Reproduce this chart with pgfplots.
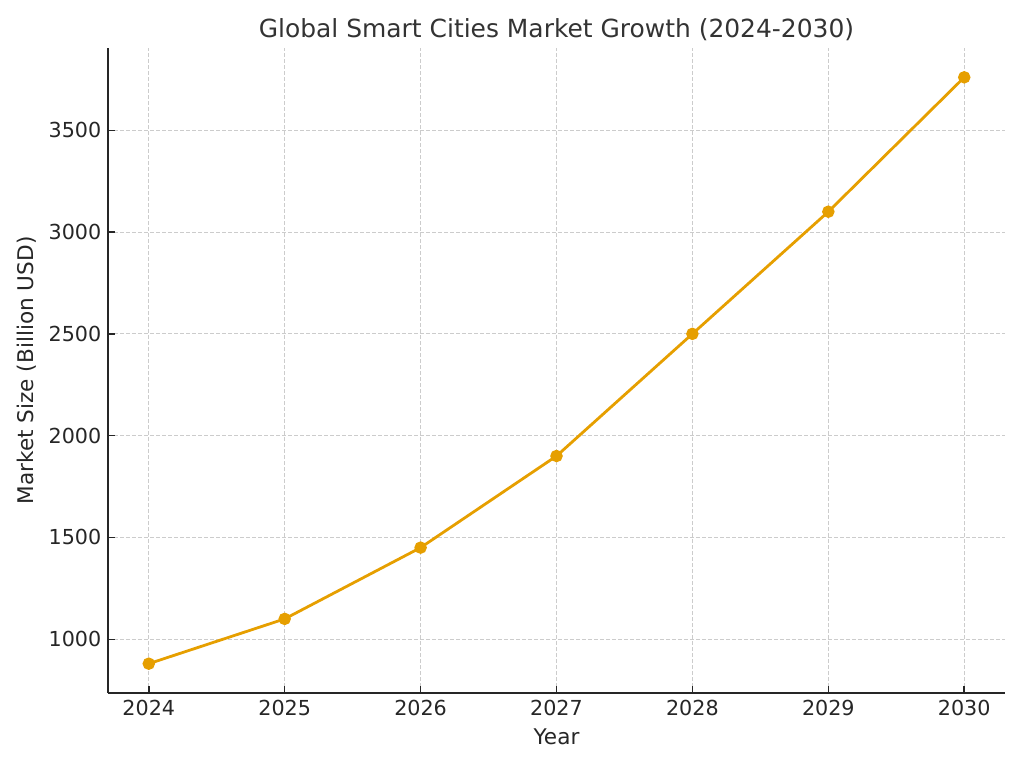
\documentclass[border=0pt]{standalone}
\usepackage{fontspec}
\setmainfont{DejaVu Sans}
\usepackage{pgfplots}
\pgfplotsset{compat=1.18}
\definecolor{lineorange}{HTML}{E69F00}
\definecolor{txt}{HTML}{262626}
\definecolor{gridgray}{HTML}{CCCCCC}

\begin{document}
\begin{tikzpicture}
\begin{axis}[
    scale only axis,
    width=672.75pt, height=483.75pt,
    xmin=2023.7, xmax=2030.3,
    ymin=736, ymax=3904,
    xtick={2024,2025,...,2030},
    ytick={1000,1500,...,3500},
    axis x line*=bottom,
    axis y line*=left,
    axis line style={line width=1.2pt, color=txt},
    tick align=inside,
    major tick length=5.5pt,
    tick style={line width=1.1pt, color=txt},
    /pgf/number format/1000 sep={},
    /pgf/number format/assume math mode=true,
    ticklabel style={font=\fontsize{15.5}{18}\selectfont, text=txt},
    xticklabel style={yshift=-2pt},
    yticklabel style={xshift=-1.5pt},
    grid=major,
    major grid style={line width=0.7pt, color=gridgray, dash pattern=on 3.1pt off 1.4pt},
    title={Global Smart Cities Market Growth (2024-2030)},
    title style={at={(axis description cs:0.5,1)}, anchor=base, yshift=1.5pt,
        font=\fontsize{18.7}{22}\selectfont, text=black!80},
    xlabel={Year},
    xlabel style={at={(axis description cs:0.5,0)}, anchor=base, yshift=-38.25pt,
        font=\fontsize{16.2}{19}\selectfont, text=txt},
    ylabel={Market Size (Billion USD)},
    ylabel style={at={(axis description cs:0,0.5)}, anchor=base, yshift=55.5pt,
        font=\fontsize{16.2}{19}\selectfont, text=txt},
]
\addplot[color=lineorange, line width=2.1pt, mark=*, mark size=3.6pt,
    mark options={solid, fill=lineorange, draw=lineorange}] coordinates {
    (2024, 880) (2025, 1100) (2026, 1450) (2027, 1900)
    (2028, 2500) (2029, 3100) (2030, 3760)
};
\end{axis}
\pgfresetboundingbox
\path (-81pt,-56.25pt) rectangle (687pt,519.75pt);
\end{tikzpicture}
\end{document}
